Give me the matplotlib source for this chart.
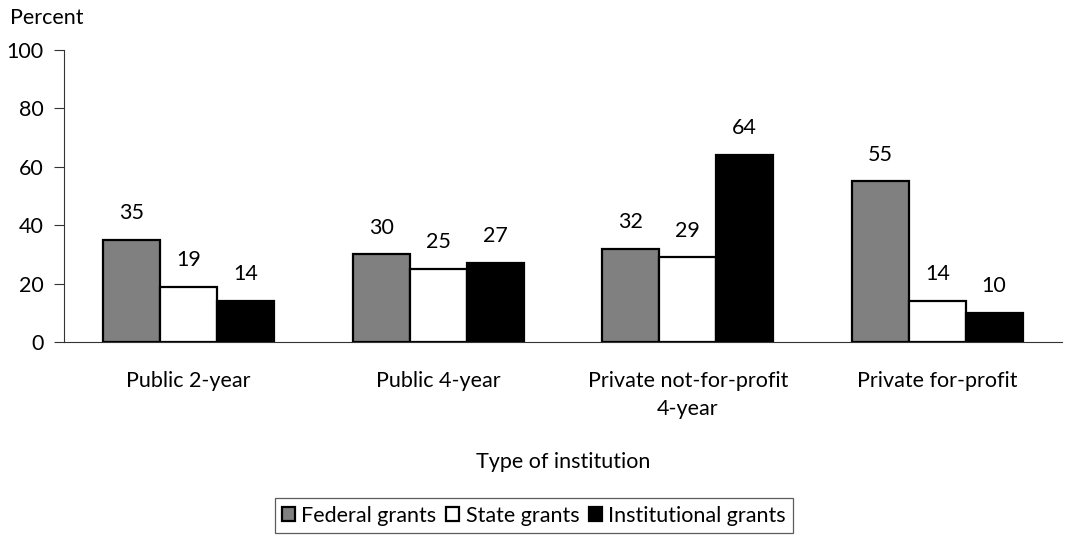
import matplotlib.pyplot as plt
import numpy as np

categories = ['Public 2-year', 'Public 4-year', 'Private not-for-profit\n4-year', 'Private for-profit']
series = ['Federal grants', 'State grants', 'Institutional grants']
federal = [35, 30, 32, 55]
state = [19, 25, 29, 14]
institutional = [14, 27, 64, 10]
colors = ['#808080', 'white', 'black']

plt.rcParams['font.family'] = ['Lato', 'DejaVu Sans']
fs = 15.5

fig = plt.figure(figsize=(10.73, 5.37), dpi=100)
ax = fig.add_axes([64 / 1073, 1 - 342 / 537, (1062 - 64) / 1073, (342 - 50) / 537])

x = np.arange(len(categories))
w = 0.228
values = [federal, state, institutional]
for i, (vals, c, name) in enumerate(zip(values, colors, series)):
    pos = x + (i - 1) * w
    ax.bar(pos, vals, w, color=c, edgecolor='black', linewidth=1.6, label=name)
    for p, v in zip(pos, vals):
        ax.annotate(str(v), (p, v), xytext=(0, 12), textcoords='offset points',
                    ha='center', va='bottom', fontsize=fs)

ax.set_xlim(-0.5, len(categories) - 0.5)
ax.set_ylim(0, 100)
ax.set_yticks(range(0, 101, 20))
ax.set_xticks(x)
ax.set_xticklabels(categories, fontsize=fs, linespacing=1.5)
ax.tick_params(axis='x', length=0, pad=21)
ax.tick_params(axis='y', length=7.5, labelsize=fs, pad=7, color='#333333')
for s in ['top', 'right']:
    ax.spines[s].set_visible(False)
ax.spines['left'].set_color('#333333')
ax.spines['bottom'].set_color('#333333')

ax.set_xlabel('Type of institution', fontsize=fs, labelpad=24)
fig.text(10 / 1073, 1 - 18 / 537, 'Percent', fontsize=fs, va='center', ha='left')

leg = fig.legend(loc='upper center', bbox_to_anchor=(534 / 1073, 1 - 498 / 537), ncol=3,
                 fontsize=fs, frameon=True, fancybox=False, edgecolor='#333333',
                 handlelength=0.6, handleheight=0.6, handletextpad=0.3,
                 columnspacing=0.45, borderpad=0.35, borderaxespad=0)
leg.get_frame().set_linewidth(0.9)

fig.savefig('out.png', dpi=100)
